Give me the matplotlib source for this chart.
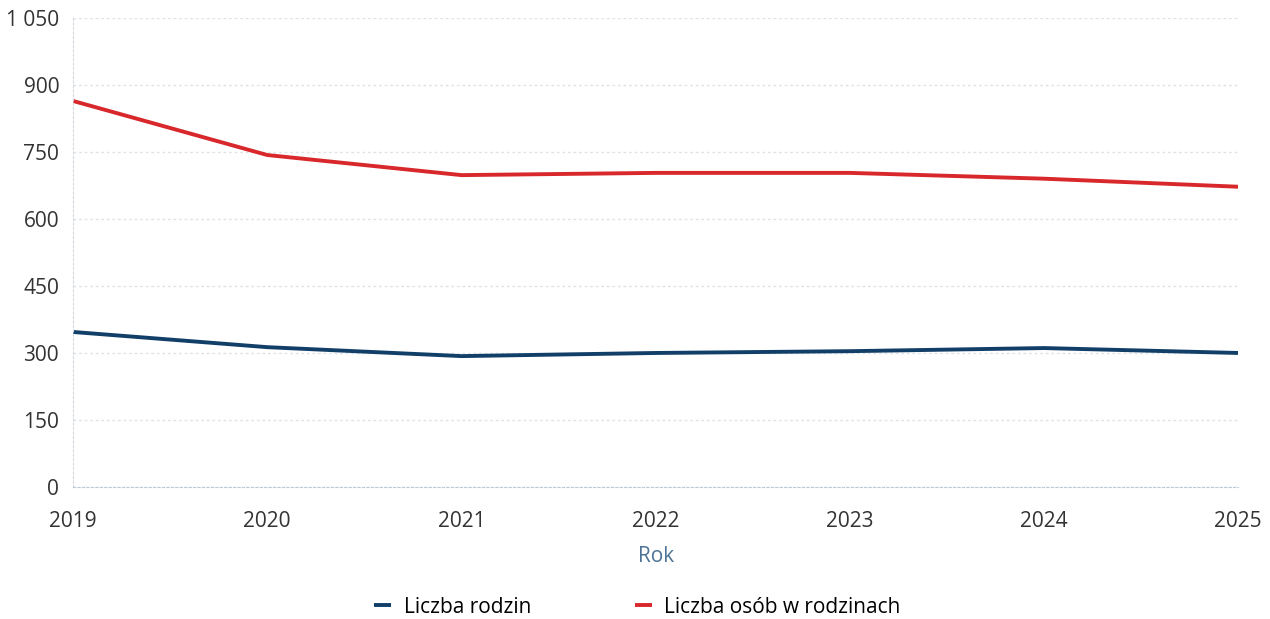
import matplotlib.pyplot as plt
from matplotlib.ticker import FuncFormatter

plt.rcParams['font.family'] = ['Open Sans', 'DejaVu Sans']

# data
years = [2019, 2020, 2021, 2022, 2023, 2024, 2025]
liczba_rodzin = [347, 313, 293, 300, 304, 311, 300]
liczba_osob = [864, 743, 698, 703, 703, 690, 672]
y_ticks = [0, 150, 300, 450, 600, 750, 900, 1050]

blue = '#123f68'
red = '#d8282c'

fig = plt.figure(figsize=(12.7, 6.19), dpi=100)
ax = fig.add_axes([0.0575, 0.2132, 0.9175, 0.758])

ax.plot(years, liczba_rodzin, color=blue, lw=2.8, label='Liczba rodzin', solid_capstyle='butt')
ax.plot(years, liczba_osob, color=red, lw=2.8, label='Liczba osób w rodzinach', solid_capstyle='butt')

ax.set_xlim(2019, 2025)
ax.set_ylim(0, 1050)
ax.set_xticks(years)
ax.set_yticks(y_ticks)
ax.yaxis.set_major_formatter(FuncFormatter(lambda v, p: f'{int(v):,}'.replace(',', ' ')))

ax.grid(axis='y', color='#dfe3e8', lw=1, ls=(0, (2, 2)))
for s in ['top', 'right']:
    ax.spines[s].set_visible(False)
ax.spines['left'].set_color('#d5dae0')
ax.spines['left'].set_linestyle((0, (2, 2)))
ax.spines['bottom'].set_color('#b9cad8')
ax.spines['bottom'].set_linestyle((0, (2, 2)))
ax.tick_params(length=0, labelsize=15, colors='#333333')
ax.tick_params(axis='y', pad=10)
ax.tick_params(axis='x', pad=17)

ax.set_xlabel('Rok', fontsize=15, color='#4d7396', labelpad=10)

fig.legend(loc='lower center', bbox_to_anchor=(0.502, -0.028), ncol=2, frameon=False,
           fontsize=15, handlelength=0.8, handletextpad=0.6, columnspacing=5.0)

fig.savefig('out.png', dpi=100)
